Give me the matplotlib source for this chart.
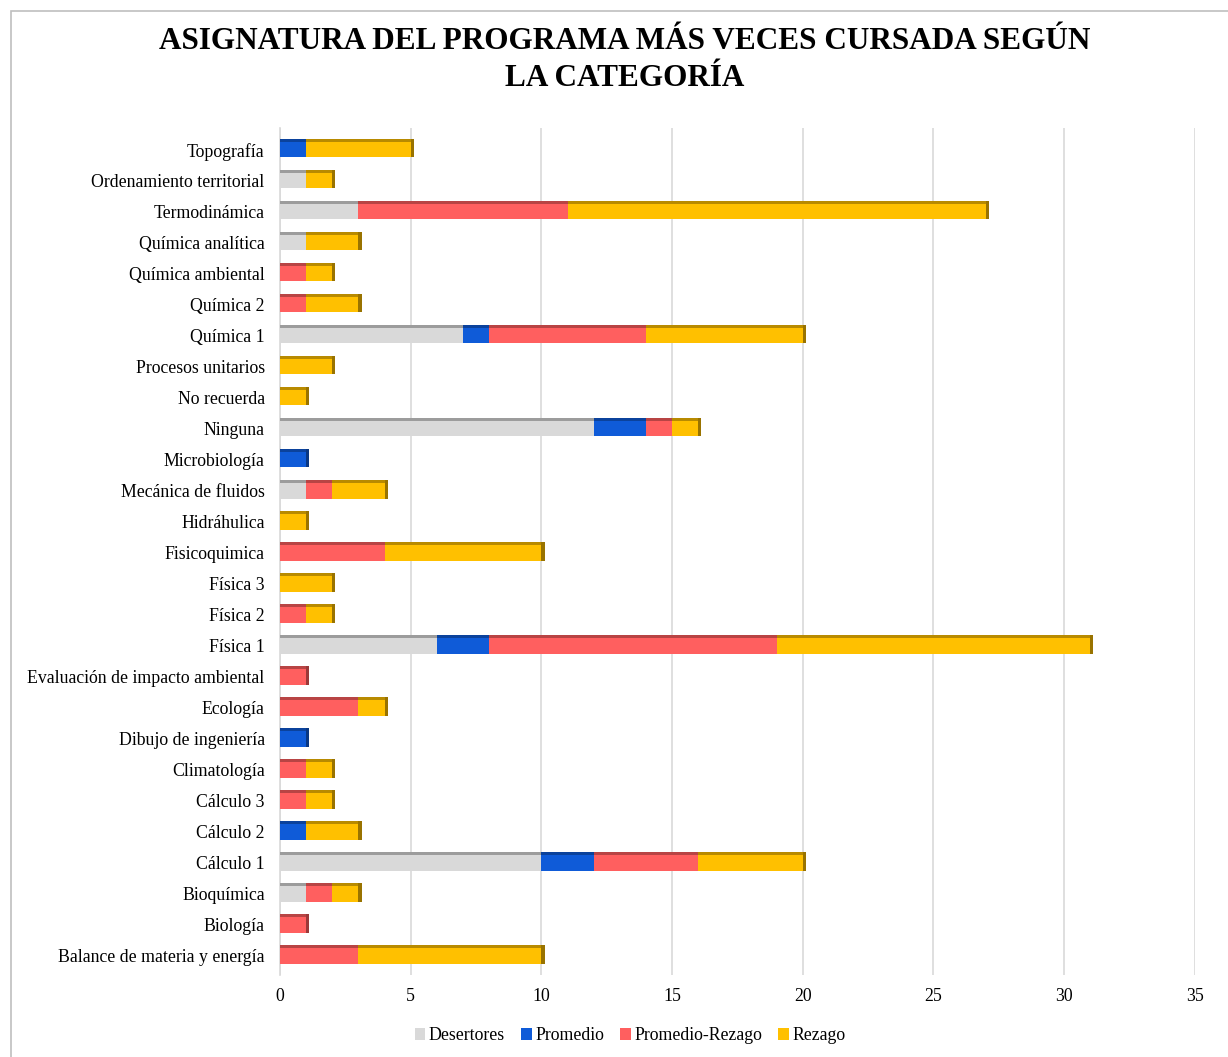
import numpy as np
import matplotlib.pyplot as plt
from matplotlib.patches import Rectangle
from matplotlib.colors import to_rgb

plt.rcParams['font.family'] = ['Liberation Serif', 'DejaVu Serif']

# categories listed bottom to top
asignaturas = ["Balance de materia y energía", "Biología", "Bioquímica", "Cálculo 1",
               "Cálculo 2", "Cálculo 3", "Climatología", "Dibujo de ingeniería",
               "Ecología", "Evaluación de impacto ambiental", "Física 1", "Física 2",
               "Física 3", "Fisicoquimica", "Hidráhulica", "Mecánica de fluidos",
               "Microbiología", "Ninguna", "No recuerda", "Procesos unitarios",
               "Química 1", "Química 2", "Química ambiental", "Química analítica",
               "Termodinámica", "Ordenamiento territorial", "Topografía"]

desertores      = [0, 0, 1, 10, 0, 0, 0, 0, 0, 0, 6, 0, 0, 0, 0, 1, 0, 12, 0, 0, 7, 0, 0, 1, 3, 1, 0]
promedio        = [0, 0, 0, 2, 1, 0, 0, 1, 0, 0, 2, 0, 0, 0, 0, 0, 1, 2, 0, 0, 1, 0, 0, 0, 0, 0, 1]
promedio_rezago = [3, 1, 1, 4, 0, 1, 1, 0, 3, 1, 11, 1, 0, 4, 0, 1, 0, 1, 0, 0, 6, 1, 1, 0, 8, 0, 0]
rezago          = [7, 0, 1, 4, 2, 1, 1, 0, 1, 0, 12, 1, 2, 6, 1, 2, 0, 1, 1, 2, 6, 2, 1, 2, 16, 1, 4]

series = [("Desertores", desertores, "#d9d9d9"),
          ("Promedio", promedio, "#0f5bd8"),
          ("Promedio-Rezago", promedio_rezago, "#ff5f5f"),
          ("Rezago", rezago, "#ffc000")]


def darker(c, f=0.72):
    r, g, b = to_rgb(c)
    return (r * f, g * f, b * f)


fig = plt.figure(figsize=(12.28, 10.57), dpi=100)
ax = fig.add_axes([0.228, 0.078, 0.745, 0.801])

y = np.arange(len(asignaturas))
h = 0.5
left = np.zeros(len(asignaturas))
for name, vals, col in series:
    vals = np.array(vals, dtype=float)
    ax.barh(y, vals, height=h, left=left, color=col, label=name, zorder=3)
    # darker top face for the 3D look
    ax.barh(y + h / 2 + 0.05, vals, height=0.1, left=left, color=darker(col), zorder=3)
    left = left + vals

# side face on the right end of each bar
total = left
last_col = []
for i in range(len(asignaturas)):
    c = "#ffc000"
    for name, vals, col in series:
        if vals[i] > 0:
            c = col
    last_col.append(darker(c, 0.6))
ax.barh(y + 0.05, np.full(len(y), 0.12), height=h + 0.1, left=total,
        color=last_col, zorder=3)

ax.set_xlim(0, 35)
ax.set_ylim(-0.6, len(asignaturas) - 0.3)
ax.set_xticks(range(0, 36, 5))
ax.set_yticks(y)
ax.set_yticklabels(asignaturas)
ax.tick_params(axis='both', length=0, labelsize=12.8)
ax.tick_params(axis='x', pad=10)
ax.tick_params(axis='y', pad=11)
ax.grid(axis='x', color='#d9d9d9', linewidth=1.2, zorder=0)
for s in ['top', 'right', 'bottom']:
    ax.spines[s].set_visible(False)
ax.spines['left'].set_color('#d9d9d9')
ax.spines['left'].set_linewidth(1.2)

fig.suptitle("ASIGNATURA DEL PROGRAMA MÁS VECES CURSADA SEGÚN\nLA CATEGORÍA",
             x=0.509, y=0.974, fontsize=22.5, fontweight='bold', linespacing=1.35)

handles, labels = ax.get_legend_handles_labels()
fig.legend(handles, labels, loc='center', bbox_to_anchor=(0.513, 0.02), ncol=4,
           frameon=False, fontsize=12.8, handlelength=0.6, handleheight=0.6,
           handletextpad=0.2, columnspacing=0.9)

fig.add_artist(Rectangle((0.009, -0.01), 1.0, 1.0, transform=fig.transFigure,
                         fill=False, edgecolor='#bfbfbf', linewidth=1.2))

fig.savefig("out.png", dpi=100, facecolor='white')
